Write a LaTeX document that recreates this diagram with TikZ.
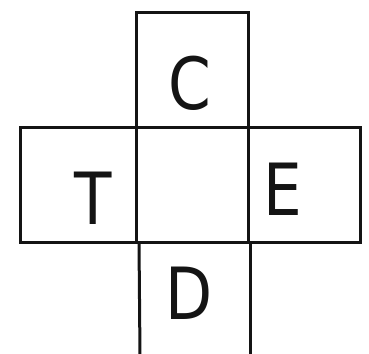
\documentclass[tikz,border=0pt]{standalone}
\usepackage{fontspec}
\setmainfont{DejaVu Sans}
\usetikzlibrary{positioning}
\definecolor{inkblack}{RGB}{20,20,20}
\tikzset{
  cell/.style={draw=inkblack, line width=3pt, minimum width=112pt, minimum height=115pt,
               inner sep=0pt, outer sep=0pt},
  letter/.style={text=inkblack, font=\fontsize{72}{72}\selectfont, inner sep=0pt, xscale=0.85},
  open-side/.style={draw=inkblack, line width=3pt},
}
\begin{document}
\begin{tikzpicture}[x=1pt, y=-1pt]
\useasboundingbox (0,0) rectangle (369,353);
% cross of cells
\node[cell] (ctr) at (192,185) {};
\node[cell, above=0pt of ctr] (top) {};
\node[cell, minimum width=116pt, left=0pt of ctr] (lft) {};
\node[cell, right=0pt of ctr] (rgt) {};
% bottom cell runs off the page
\coordinate (bl) at (140,356);
\coordinate (br) at (250,356);
\draw[open-side] (ctr.south west) ++(3,0) -- (bl);
\draw[open-side] (ctr.south east) ++(2,0) -- (br);
% letters
\node[letter] (labC) at (190,83) {C};
\node[letter] (labT) at (93,198) {T};
\node[letter] (labE) at (283,189) {E};
\node[letter] (labD) at (189,293) {D};
\end{tikzpicture}
\end{document}
